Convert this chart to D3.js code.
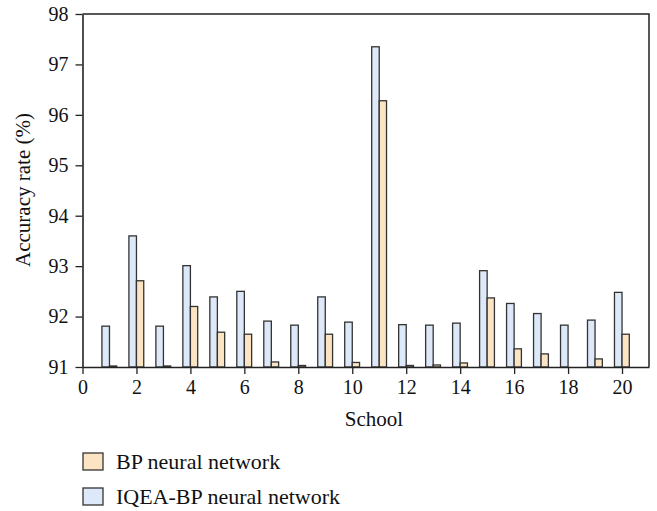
<!DOCTYPE html>
<html>
<head>
<meta charset="utf-8">
<script src="https://cdn.jsdelivr.net/npm/d3@7"></script>
<style>
  body { margin: 0; background: #fff; }
  svg { display: block; }
</style>
</head>
<body>
<svg width="657" height="511"></svg>
<script>
// data
var schools = [1,2,3,4,5,6,7,8,9,10,11,12,13,14,15,16,17,18,19,20]
var bp_values = [91.02,92.71,91.02,92.2,91.69,91.65,91.1,91.03,91.65,91.09,96.28,91.03,91.04,91.08,92.37,91.36,91.26,91.0,91.16,91.65]
var iqea_values = [91.81,93.6,91.81,93.01,92.39,92.5,91.91,91.83,92.39,91.89,97.35,91.84,91.83,91.87,92.91,92.26,92.06,91.83,91.93,92.48]
var x_ticks = [0,2,4,6,8,10,12,14,16,18,20]
var y_ticks = [91,92,93,94,95,96,97,98]
var legend_names = ['BP neural network', 'IQEA-BP neural network']

var blue = '#dde8f8'
var orange = '#fbe4c4'
var stroke = '#333'
var serif = '"Liberation Serif"'

var plot_left = 82.5, plot_right = 649, plot_top = 14, plot_bottom = 367

var svg = d3.select('svg')

var x = d3.scaleLinear().domain([0, 21]).range([plot_left, plot_right])
var y = d3.scaleLinear().domain([91, 98]).range([plot_bottom, plot_top])

// bars
var bars = svg.append('g')
bars.selectAll('.iqea')
    .data(schools)
    .enter()
    .append('rect')
    .attr('class', 'iqea')
    .attr('x', function(d){ return x(d - 0.28) })
    .attr('width', function(d){ return x(d) - x(d - 0.28) })
    .attr('y', function(d, i){ return y(iqea_values[i]) })
    .attr('height', function(d, i){ return plot_bottom - y(iqea_values[i]) })
    .attr('fill', blue)
    .attr('stroke', stroke)
    .attr('stroke-width', 1.3)

bars.selectAll('.bp')
    .data(schools)
    .enter()
    .append('rect')
    .attr('class', 'bp')
    .attr('x', function(d){ return x(d) })
    .attr('width', function(d){ return x(d + 0.27) - x(d) })
    .attr('y', function(d, i){ return y(bp_values[i]) })
    .attr('height', function(d, i){ return plot_bottom - y(bp_values[i]) })
    .attr('fill', orange)
    .attr('stroke', stroke)
    .attr('stroke-width', 1.3)
    .attr('display', function(d, i){ return bp_values[i] <= 91 ? 'none' : null })

// frame
svg.append('path')
    .attr('d', 'M' + plot_left + ',' + plot_top + 'H' + plot_right + 'V' + plot_bottom)
    .attr('fill', 'none')
    .attr('stroke', '#222')
    .attr('stroke-width', 1.5)

// axes
svg.append('g')
    .attr('transform', 'translate(' + plot_left + ',0)')
    .call(d3.axisLeft(y).tickValues(y_ticks).tickFormat(d3.format('d'))
        .tickSizeInner(7).tickSizeOuter(0).tickPadding(7))
svg.append('g')
    .attr('transform', 'translate(0,' + plot_bottom + ')')
    .call(d3.axisBottom(x).tickValues(x_ticks).tickFormat(d3.format('d'))
        .tickSizeInner(7).tickSizeOuter(0).tickPadding(6))

svg.selectAll('.domain').attr('stroke', '#222').attr('stroke-width', 1.6)
svg.selectAll('.tick line').attr('stroke', '#222').attr('stroke-width', 1.3)
svg.selectAll('.tick text').style('font-size', '20px')

// axis titles
svg.append('text')
    .text('Accuracy rate (%)')
    .attr('transform', 'translate(30,190) rotate(-90)')
    .attr('text-anchor', 'middle')
    .style('font-size', '21px')
svg.append('text')
    .text('School')
    .attr('x', 374)
    .attr('y', 426)
    .attr('text-anchor', 'middle')
    .style('font-size', '21px')

// legend
var legend = svg.append('g')
legend.selectAll('rect')
    .data(legend_names)
    .enter()
    .append('rect')
    .attr('x', 83)
    .attr('y', function(d, i){ return 453 + i * 35 })
    .attr('width', 20)
    .attr('height', 17)
    .attr('fill', function(d, i){ return i === 0 ? orange : blue })
    .attr('stroke', stroke)
    .attr('stroke-width', 1.3)
legend.selectAll('text')
    .data(legend_names)
    .enter()
    .append('text')
    .text(function(d){ return d })
    .attr('x', 116)
    .attr('y', function(d, i){ return 469 + i * 35 })
    .style('font-size', '22px')

svg.selectAll('text')
    .style('font-family', serif)
    .attr('fill', '#111')
</script>
</body>
</html>
